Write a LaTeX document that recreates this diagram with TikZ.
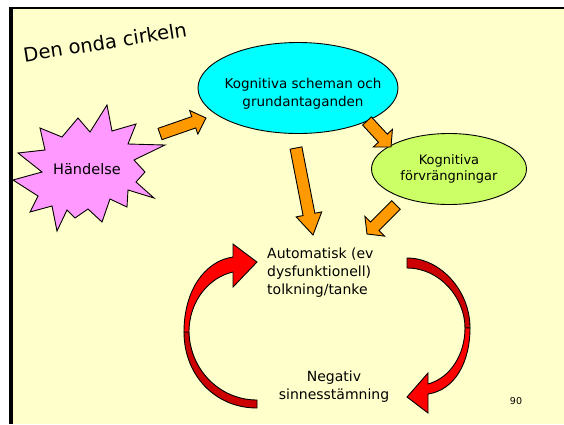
\documentclass[tikz,border=0pt]{standalone}
\usepackage{fontspec}
\setmainfont{DejaVu Sans}
\usetikzlibrary{shapes.geometric,calc}

\definecolor{slidebg}{HTML}{FFFFCC}
\definecolor{schemacyan}{HTML}{00FFFF}
\definecolor{forvrgreen}{HTML}{CCFF66}
\definecolor{eventpink}{HTML}{FF99FF}
\definecolor{arroworange}{HTML}{FF9900}
\definecolor{circred}{HTML}{FF0000}
\definecolor{circdark}{HTML}{CC0000}

\tikzset{
  oval/.style={ellipse,draw,line width=0.9pt,inner sep=0pt,align=center},
  label/.style={align=center,inner sep=0pt},
  orangebody/.style={draw,line width=0.9pt,fill=arroworange,line join=miter},
  redbody/.style={draw,line width=0.9pt,fill=circred,line join=miter},
  darkbody/.style={draw,line width=0.9pt,fill=circdark,line join=miter}
}

\newcommand{\orangearrow}[5]{%
  \coordinate (hb) at ($(#2)!#5!(#1)$);
  \draw[orangebody] ($(#1)!#3!90:(#2)$) -- ($(hb)!#3!90:(#2)$) -- ($(hb)!#4!90:(#2)$) -- (#2)
    -- ($(hb)!#4!-90:(#2)$) -- ($(hb)!#3!-90:(#2)$) -- ($(#1)!#3!-90:(#2)$) -- cycle;}

\begin{document}
\begin{tikzpicture}[x=1pt,y=-1pt]
  \useasboundingbox (0,0) rectangle (564,424);
  \fill[white] (0,0) rectangle (564,424);
  \fill[slidebg] (10,8) rectangle (564,424);
  \draw[line width=2pt] (9,8) -- (564,8);
  \draw[line width=4pt] (10.5,7) -- (10.5,424);

  \node[label,rotate=9,font=\fontsize{19.5}{22}\selectfont] (titel) at (105,42) {Den onda cirkeln};

  \node[oval,fill=schemacyan,minimum width=200pt,minimum height=91pt] (schema) at (298,88) {};
  \node[label,font=\fontsize{13.5}{18}\selectfont] (schematext) at (303,94) {Kognitiva scheman och\\grundantaganden};

  \node[oval,fill=forvrgreen,minimum width=155pt,minimum height=71pt,font=\fontsize{13}{16}\selectfont] (forvr) at (449,169) {Kognitiva\\förvrängningar};

  \draw[line width=0.9pt,fill=eventpink,line join=miter] (107,105) -- (112,131) -- (136,124) -- (128,144)
    -- (165,145) -- (134,160) -- (145,172) -- (136,182) -- (154,198) -- (128,190) -- (127,207)
    -- (110,199) -- (102,222) -- (88,209) -- (75,218) -- (67,210) -- (57,231) -- (52,206)
    -- (30,212) -- (38,196) -- (13,180) -- (42,172) -- (18,153) -- (45,150) -- (40,128)
    -- (62,137) -- (78,118) -- (90,132) -- cycle;
  \node[label,font=\fontsize{14.5}{16}\selectfont] (handelse) at (87,169) {Händelse};

  \node[label,align=left,anchor=west,font=\fontsize{14}{18}\selectfont] (tolkning) at (267,273) {Automatisk (ev\\dysfunktionell)\\tolkning/tanke};
  \node[label,font=\fontsize{14}{18}\selectfont] (negativ) at (334,387) {Negativ\\sinnesstämning};
  \node[label,font=\fontsize{9.5}{11}\selectfont] (sida) at (516,401) {90};

  \coordinate (h1) at (160,134);
  \coordinate (s1) at (206,118);
  \coordinate (s2) at (296,148);
  \coordinate (t2) at (313,235);
  \coordinate (s3) at (367,121);
  \coordinate (f3) at (391,147);
  \coordinate (f4) at (396,205);
  \coordinate (t4) at (367,234);

  \orangearrow{h1}{s1}{6pt}{12.5pt}{13pt}
  \orangearrow{s2}{t2}{6pt}{13pt}{21pt}
  \orangearrow{s3}{f3}{6pt}{13pt}{12pt}
  \orangearrow{f4}{t4}{6pt}{14pt}{11pt}

  \draw[darkbody] (184,332) .. controls (184,375) and (215,408) .. (257,408) -- (257,400)
    .. controls (220,400) and (190,370) .. (189,332) -- cycle;
  \draw[redbody] (184,332) .. controls (184,290) and (205,261) .. (233,257) -- (233,244)
    -- (257,262) -- (233,287) -- (233,272) .. controls (210,277) and (189,300) .. (189,332) -- cycle;

  \draw[darkbody] (407,258) .. controls (440,258) and (470,290) .. (470,328) -- (465,328)
    .. controls (465,298) and (440,268) .. (407,268) -- cycle;
  \draw[redbody] (470,328) .. controls (470,362) and (455,390) .. (428,394) -- (428,413)
    -- (407,397) -- (428,373) -- (428,384) .. controls (450,378) and (465,355) .. (465,328) -- cycle;
\end{tikzpicture}
\end{document}
